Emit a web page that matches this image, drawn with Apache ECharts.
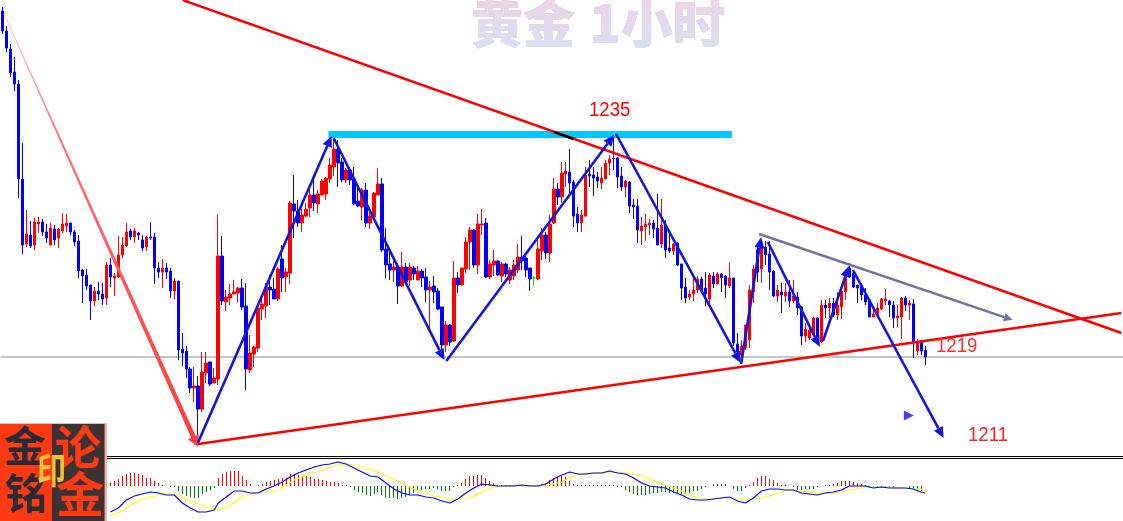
<!DOCTYPE html>
<html><head><meta charset="utf-8">
<style>html,body{margin:0;padding:0;background:#fff;overflow:hidden}#c{width:1123px;height:521px}</style>
<script src="https://cdn.jsdelivr.net/npm/echarts@6/dist/echarts.min.js"></script>
</head><body><div id="c"></div><script>
// open, close, low, high
const candlesA=[[1246.9,1244.9,1244.6,1247.3],[1244.9,1243.2,1242.8,1245.4],[1243.1,1240.7,1240.3,1243.6],[1240.8,1239.6,1238.9,1242.3],[1239.6,1230.1,1228.2,1240.0],[1230.1,1223.5,1222.6,1233.7],[1223.6,1224.6,1223.3,1227.0],[1224.5,1223.4,1223.2,1225.9],[1223.5,1225.8,1223.0,1226.2],[1225.6,1225.8,1224.7,1226.3],[1225.8,1224.8,1224.4,1226.1],[1224.8,1224.2,1223.7,1225.6],[1223.5,1225.2,1223.5,1225.7],[1225.1,1224.0,1223.5,1225.5],[1224.2,1225.1,1223.2,1225.2],[1224.9,1225.6,1224.7,1226.7],[1225.4,1225.7,1224.8,1226.6],[1225.7,1224.8,1224.5,1225.7],[1224.8,1223.8,1223.4,1225.0],[1223.9,1220.9,1220.2,1224.5],[1221.0,1220.4,1217.7,1221.1],[1220.5,1219.4,1219.0,1221.1],[1219.5,1217.9,1216.0,1219.5],[1217.9,1218.9,1217.4,1219.3],[1218.9,1218.6,1218.0,1219.8],[1218.6,1218.1,1217.5,1219.7],[1218.2,1221.5,1217.5,1221.8],[1221.5,1220.3,1219.3,1222.2],[1220.2,1220.4,1218.4,1220.7],[1220.3,1222.5,1220.2,1224.4],[1222.5,1223.5,1222.2,1224.3],[1223.4,1224.8,1223.3,1225.7],[1224.9,1224.3,1224.0,1225.1],[1224.3,1224.9,1223.7,1225.2],[1224.7,1224.5,1224.0,1224.8],[1224.0,1223.2,1222.9,1224.5],[1223.3,1224.3,1222.9,1224.4],[1224.3,1224.2,1224.0,1225.8],[1224.3,1221.2,1219.6,1224.7],[1221.2,1220.8,1220.2,1221.8],[1220.8,1221.2,1219.2,1222.1],[1221.2,1220.8,1220.1,1221.7],[1220.9,1218.9,1218.2,1221.2],[1218.9,1219.9,1218.1,1220.2],[1219.9,1213.0,1212.0,1219.9],[1213.1,1212.7,1211.4,1214.7]];
const candlesB=[[1212.9,1211.1,1210.2,1213.4],[1211.1,1209.2,1208.7,1211.3],[1209.2,1209.4,1207.8,1211.3],[1209.4,1207.1,1204.0,1210.4],[1207.1,1210.8,1206.8,1212.8],[1210.7,1211.7,1209.7,1212.8],[1211.8,1209.6,1209.4,1211.8],[1209.7,1210.2,1209.7,1211.2],[1210.1,1222.4,1209.5,1226.5],[1222.4,1217.9,1217.5,1224.4],[1217.8,1218.3,1216.9,1219.0],[1218.2,1218.6,1217.5,1219.6],[1218.6,1218.8,1218.6,1220.0],[1218.7,1219.2,1217.8,1219.3],[1219.2,1217.3,1217.0,1220.1],[1217.4,1211.1,1209.0,1219.7],[1211.0,1212.7,1210.7,1214.5],[1212.6,1213.3,1211.3,1213.4],[1213.2,1217.2,1212.8,1217.3],[1217.1,1217.6,1216.0,1218.5],[1217.4,1219.3,1216.2,1219.7],[1219.3,1219.0,1217.5,1220.5],[1219.1,1218.1,1218.1,1220.2],[1218.1,1221.1,1217.9,1221.3],[1222.1,1220.2,1218.8,1223.5],[1220.3,1220.8,1218.8,1221.2],[1220.7,1227.7,1219.6,1227.9],[1227.6,1226.9,1224.2,1230.5],[1226.9,1225.7,1225.3,1228.0],[1225.7,1226.5,1224.8,1227.1],[1226.4,1227.1,1226.3,1227.7],[1227.2,1228.5,1226.3,1229.4],[1228.5,1227.7,1226.9,1230.3],[1227.6,1228.6,1226.7,1229.0],[1228.5,1229.9,1228.5,1230.1],[1228.6,1230.2,1228.0,1230.3],[1230.1,1231.5,1229.7,1232.2],[1231.3,1233.1,1230.4,1234.0],[1233.1,1231.7,1229.3,1234.0],[1231.8,1230.0,1229.8,1232.2],[1230.0,1231.0,1229.7,1231.2],[1231.0,1230.0,1229.5,1231.3],[1230.1,1227.6,1227.5,1231.3],[1227.9,1227.4,1227.3,1229.2],[1227.3,1229.0,1226.0,1229.2],[1229.0,1225.7,1225.3,1229.7],[1225.7,1226.4,1225.1,1227.0],[1226.3,1228.7,1226.3,1228.8],[1228.5,1229.6,1228.5,1231.2],[1229.6,1223.0,1222.8,1230.2]];
const candlesC=[[1223.1,1221.5,1220.2,1225.2],[1221.6,1221.0,1220.0,1222.8],[1221.0,1221.3,1219.8,1221.9],[1221.3,1219.4,1217.6,1221.7],[1219.4,1221.3,1219.3,1222.8],[1221.3,1219.8,1219.7,1221.7],[1220.0,1221.3,1219.4,1221.7],[1221.2,1220.6,1220.0,1221.4],[1220.0,1220.9,1220.0,1221.4],[1220.9,1220.2,1219.3,1221.1],[1220.3,1219.0,1217.8,1221.2],[1219.0,1219.3,1215.2,1219.9],[1219.4,1218.8,1217.7,1220.4],[1218.9,1217.1,1217.0,1219.2],[1217.3,1213.5,1212.8,1217.3],[1213.5,1215.5,1212.8,1215.9],[1215.5,1213.8,1213.4,1215.6],[1213.9,1220.2,1213.8,1221.9],[1220.2,1219.5,1218.7,1220.8],[1219.5,1221.2,1219.5,1221.2],[1221.1,1223.8,1220.7,1224.3],[1223.8,1225.0,1221.0,1225.3],[1225.0,1221.5,1221.2,1225.1],[1221.5,1225.6,1220.6,1226.6],[1225.5,1225.6,1224.5,1227.1],[1225.7,1220.3,1220.2,1226.2],[1220.3,1221.6,1220.1,1222.0],[1221.5,1221.9,1220.4,1223.0],[1221.9,1220.5,1220.4,1222.0],[1220.4,1221.6,1219.8,1221.8],[1221.6,1220.6,1220.3,1221.7],[1220.0,1221.0,1219.6,1221.3],[1220.4,1221.5,1220.0,1222.0],[1221.0,1222.3,1220.7,1223.6],[1222.3,1221.9,1221.0,1224.4],[1222.2,1221.0,1220.3,1222.7],[1221.2,1220.1,1218.9,1221.2],[1220.2,1220.2,1219.4,1220.4],[1220.1,1223.1,1220.0,1224.0],[1222.9,1224.5,1222.0,1225.2],[1224.5,1222.7,1222.1,1224.8],[1222.7,1225.6,1221.8,1226.5],[1225.7,1229.1,1225.6,1230.2],[1229.1,1228.3,1227.5,1229.7],[1228.3,1230.7,1227.7,1231.8],[1230.6,1230.9,1229.3,1231.8],[1230.8,1229.7,1228.7,1233.1],[1229.8,1226.4,1225.3,1230.0],[1226.6,1225.7,1224.8,1227.3]];
const candlesD=[[1225.7,1226.5,1224.8,1227.0],[1226.4,1230.5,1226.3,1231.3],[1230.6,1230.4,1229.3,1232.0],[1230.5,1230.2,1228.4,1231.3],[1230.3,1229.9,1229.2,1230.8],[1229.7,1230.2,1229.1,1231.3],[1230.1,1231.7,1230.1,1232.0],[1231.7,1232.1,1230.5,1232.5],[1232.2,1232.1,1231.0,1234.3],[1232.2,1230.3,1229.2,1232.3],[1230.4,1229.3,1228.9,1231.3],[1229.3,1229.9,1228.3,1230.0],[1229.8,1227.4,1226.7,1229.9],[1227.5,1227.3,1226.1,1228.1],[1227.4,1225.0,1223.7,1228.1],[1224.9,1225.4,1223.5,1226.3],[1225.3,1225.6,1223.9,1226.6],[1225.5,1225.7,1224.5,1226.1],[1225.7,1225.1,1224.2,1226.0],[1225.2,1223.5,1223.5,1228.6],[1223.6,1225.5,1223.2,1228.1],[1225.5,1223.0,1222.2,1226.0],[1223.2,1222.9,1222.7,1225.0],[1222.9,1223.6,1222.5,1223.7],[1223.7,1221.5,1221.4,1223.8],[1221.6,1219.2,1218.0,1221.6],[1219.3,1218.2,1217.7,1220.2],[1218.3,1218.6,1218.0,1219.0],[1218.6,1219.0,1217.9,1220.4],[1219.0,1220.1,1218.7,1220.4],[1220.1,1219.0,1218.8,1220.3],[1219.2,1218.6,1217.4,1220.8],[1218.1,1220.5,1217.4,1220.7],[1220.4,1219.6,1219.2,1220.8],[1219.6,1220.6,1219.6,1220.8],[1220.6,1220.2,1218.8,1220.7],[1220.4,1219.5,1218.2,1220.5],[1219.4,1220.2,1219.2,1221.7]];
const candlesE=[[1220.2,1213.7,1213.4,1220.2],[1213.6,1212.8,1212.3,1214.7],[1212.5,1213.4,1211.6,1214.0],[1213.2,1215.5,1213.0,1215.5],[1214.0,1219.0,1213.2,1219.5],[1218.8,1221.1,1217.7,1221.5],[1223.0,1220.8,1219.8,1223.5],[1221.1,1223.7,1219.7,1224.0],[1223.3,1222.5,1221.5,1223.9],[1222.6,1220.8,1219.0,1223.9],[1220.9,1218.4,1218.3,1221.0],[1218.4,1219.0,1217.8,1219.5],[1218.8,1218.5,1216.7,1219.7],[1218.4,1218.8,1217.8,1219.7],[1218.8,1217.9,1217.3,1220.0],[1217.9,1218.4,1217.7,1220.0],[1218.3,1217.2,1216.5,1218.8],[1217.3,1214.4,1213.5,1217.4],[1214.4,1215.1,1213.8,1215.7],[1214.2,1215.0,1214.0,1215.3],[1214.5,1216.2,1214.5,1216.3],[1216.2,1214.0,1213.7,1216.3],[1213.8,1217.5,1213.7,1218.0],[1217.5,1217.2,1216.2,1218.0],[1217.2,1217.7,1216.2,1218.2],[1217.7,1216.5,1216.3,1218.2],[1216.5,1217.5,1216.0,1218.8],[1217.3,1218.9,1216.1,1219.2],[1218.8,1220.3,1218.0,1220.5],[1221.2,1220.3,1220.2,1221.7],[1220.7,1219.3,1219.2,1221.0],[1219.5,1219.2,1217.7,1219.5],[1219.4,1218.5,1218.0,1219.7],[1218.5,1217.8,1217.5,1219.2],[1218.0,1216.3,1216.3,1218.1],[1216.3,1216.6,1216.3,1217.0],[1216.5,1217.2,1216.3,1217.7],[1217.1,1218.1,1217.0,1218.2],[1217.9,1218.1,1217.5,1219.1],[1217.9,1217.5,1216.3,1218.0],[1217.5,1216.2,1215.2,1217.9],[1216.2,1216.4,1215.3,1217.5],[1216.3,1218.2,1214.1,1218.3],[1218.2,1217.5,1216.9,1218.4],[1217.5,1217.7,1216.0,1218.0],[1217.6,1213.8,1212.2,1218.1],[1212.9,1213.8,1212.5,1214.1],[1213.8,1212.9,1212.5,1213.8],[1213.0,1212.3,1211.5,1213.4]];
const dojiIndex=133;
// annotation lines: bar number, price
const waveArrows=[[48.9,1203.7,82.4,1234.4],[82.9,1234.2,110.6,1212.0],[111.1,1211.9,153.1,1234.5],[153.6,1234.6,184.8,1211.7],[184.9,1211.6,189.9,1224.3],[191.6,1223.8,204.6,1213.3],[205.4,1213.9,211.9,1221.4],[212.9,1221.0,235.6,1204.2]];
const channelArrow=[[189.4,1224.6,252.9,1216.0]];
const upperTrend=[[45.1,1248],[280.1,1214.7]];
const lowerTrend=[[48.9,1203.6],[280.1,1216.7]];
const resistanceBand=[[81.6,1234.55],[182.6,1234.55]];
const crossing=[[138.1,1234.8],[142.9,1234.1]];
const currentPrice=[[-0.5,1212.3],[280.5,1212.3]];
const fallWedge=[[0.4,1246.6,48.6,1203.6]];
const marker=[[226.9,1206.45]];
// MACD
const histStart=27;
const histA=[.3,.5,.7,1,1.2,1.3,1.3,1.2,1.1,.8,.8,.5,.3,.1,0,-.1,-.1,-.5,-.8,-1,-1.1,-1.2,-1.2,-.8,-.6,-.4,-.2,.8,1.2,1.4,1.5,1.5,1.5,1,.6,.2,0,.1,.2,.4,.5,.6,.7,.8,.8,1.2,1.2,1.1,1,1,.9,.7,.7,.6,.5];
const histB=[.4,.4,.3,.1,.1,-.1,-.4,-.6,-.7,-.9,-1,-.8,-.6,-.9,-1.1,-1.2,-1.2,-1.3,-1.2,-1.1,-.9,-.7,-.5,-.4,-.3,-.3,-.2,-.3,-.5,-.5,-.5,-.1];
const histC=[.1,.3,.7,1,1,1.1,1.1,.8,.5,.3,.1,.1,.1,.1,.1,.1,.1,.1,.1,.1,.1,.2,.3,.6,.8,.9,1,.9,.5,.2,.1,.1,.1,.1,.1,.1,.1,.1,.1,.1];
const histD=[-.1,-.1,-.4,-.6,-.8,-.9,-.9,-.9,-.8,-.7,-.7,-.6,-.6,-.7,-.7,-.7,-.8,-.8,-.7,-.5,-.5,-.3,-.1,0,.2,.25,.25,.25,0,-.3,-.5,-.5,-.2,.1,.4,.8,1,1,.7,.6,.3,.1,.1,0,-.1,-.4,-.4,-.3,-.3,-.3,-.1,0,.1,.1,.2,.3,.5,.5,.5,.4,.3,.25,.1,-.1,-.1,-.1,-.1,-.1,-.1,-.1,0,0,0,-.2,-.2,-.3,-.5];
const difLine=[[27,-2.6],[29,-2.2],[31,-1.4],[33,-1],[35,-.8],[37,-.6],[39,-.7],[41,-.9],[43,-.9],[45,-1.7],[47,-2.2],[49,-2.6],[51,-2.6],[53,-2.4],[54,-1.7],[56,-1.1],[58,-.5],[60,-.5],[62,-.7],[64,-.7],[66,-.3],[68,0],[70,.4],[72,.9],[74,1.3],[76,1.6],[78,1.9],[80,2.1],[82,2.2],[84,2.4],[86,2.2],[88,1.8],[90,1.4],[92,1],[94,.9],[96,.3],[98,-.3],[100,-.7],[102,-.9],[104,-.9],[106,-1.1],[108,-1.2],[110,-1.5],[112,-1.7],[114,-1.3],[116,-.7],[118,-.2],[120,.2],[122,.1],[124,0],[126,0],[128,0],[130,.1],[132,0],[134,0],[136,.2],[138,.7],[140,1.1],[142,1.4],[144,1.2],[146,1.2],[148,1.3],[150,1.3],[152,1.5],[154,1.3],[156,1.2],[158,.8],[160,.3],[162,0],[164,-.1],[166,-.2],[168,-.6],[170,-.9],[172,-1.3],[174,-1.4],[176,-1.4],[178,-1.3],[180,-1.2],[182,-1.1],[184,-1.5],[186,-1.7],[188,-1.2],[190,-.5],[192,-.3],[194,-.3],[196,-.4],[198,-.4],[200,-.7],[202,-.8],[204,-.9],[206,-.7],[208,-.6],[210,-.4],[212,0],[214,0],[216,0],[218,-.2],[220,-.1],[222,-.2],[224,-.2],[226,-.2],[228,-.3],[230,-.6],[231,-.7]];
const deaLine=[[27,-2.9],[29,-2.7],[31,-2.2],[33,-1.7],[35,-1.3],[37,-1.1],[39,-.9],[41,-.8],[43,-.8],[45,-1.1],[47,-1.5],[49,-1.8],[51,-2.1],[53,-2.3],[55,-2.3],[57,-1.9],[59,-1.4],[61,-1],[63,-.7],[65,-.6],[67,-.5],[69,-.4],[71,.1],[73,.6],[75,.9],[77,1.3],[79,1.4],[81,1.8],[82,1.9],[84,2.1],[86,2.2],[88,2.1],[90,1.9],[92,1.7],[94,1.4],[96,1],[98,.6],[100,.3],[102,-.1],[104,-.5],[106,-.7],[108,-1],[110,-1.1],[112,-1.3],[114,-1.3],[116,-1.3],[118,-1],[120,-.6],[122,-.2],[124,-.1],[126,0],[130,0],[134,0],[136,.1],[138,.2],[140,.4],[142,.8],[144,1.1],[146,1.2],[148,1.3],[152,1.3],[154,1.4],[156,1.3],[158,1.2],[160,1],[162,.7],[164,.4],[166,.1],[168,-.2],[170,-.5],[172,-.9],[174,-1.1],[176,-1.3],[178,-1.3],[180,-1.2],[182,-1.2],[184,-1.3],[186,-1.3],[188,-1.3],[190,-1.2],[192,-1],[194,-.7],[196,-.5],[198,-.4],[200,-.5],[202,-.6],[204,-.7],[206,-.7],[208,-.7],[210,-.6],[212,-.4],[214,-.3],[216,-.1],[218,-.1],[220,-.1],[222,-.1],[224,-.2],[226,-.2],[228,-.3],[230,-.3],[231,-.5]];
const categories=Array.from({length:281},(_,i)=>String(i));
const candles=candlesA.concat(candlesB,candlesC,candlesD,candlesE);
const hist=histA.concat(histB,histC,histD);

const cjk='"Noto Sans CJK SC"';
function arrowRender(color,width,hl,hw){return function(params,api){
  const a=api.coord([api.value(0),api.value(1)]),b=api.coord([api.value(2),api.value(3)]);
  const dx=b[0]-a[0],dy=b[1]-a[1],L=Math.hypot(dx,dy),ux=dx/L,uy=dy/L;
  const bx=b[0]-ux*hl,by=b[1]-uy*hl;
  return {type:'group',children:[
    {type:'line',shape:{x1:a[0],y1:a[1],x2:bx,y2:by},style:{stroke:color,lineWidth:width}},
    {type:'polygon',shape:{points:[b,[bx-uy*hw/2,by+ux*hw/2],[bx+uy*hw/2,by-ux*hw/2]]},style:{fill:color}}
  ]};
};}
function wedgeRender(params,api){
  const a=api.coord([api.value(0),api.value(1)]),b=api.coord([api.value(2),api.value(3)]);
  const dx=b[0]-a[0],dy=b[1]-a[1],L=Math.hypot(dx,dy),ux=dx/L,uy=dy/L;
  const w0=.4,w1=2.4;
  const g=new echarts.graphic.LinearGradient(a[0],a[1],b[0],b[1],[{offset:0,color:'#ffd0d0'},{offset:.3,color:'#ff7070'},{offset:1,color:'#ff3a3a'}],true);
  return {type:'group',children:[
    {type:'polygon',shape:{points:[[a[0]-uy*w0,a[1]+ux*w0],[a[0]+uy*w0,a[1]-ux*w0],[b[0]+uy*w1,b[1]-ux*w1],[b[0]-uy*w1,b[1]+ux*w1]]},style:{fill:g}},
    {type:'polygon',shape:{points:[[b[0]+ux*3,b[1]+uy*3],[b[0]-ux*8-uy*6,b[1]-uy*8+ux*6],[b[0]-ux*8+uy*6,b[1]-uy*8-ux*6]]},style:{fill:'#ff4040'}}
  ]};
}
function histRender(params,api){
  const v=api.value(1);
  if(!v) return null;
  const c=api.coord([api.value(0),v]),o=api.coord([api.value(0),0]);
  const top=Math.round(Math.min(c[1],o[1])),bottom=Math.round(Math.max(c[1],o[1]));
  return {type:'rect',shape:{x:Math.floor(c[0]),y:top,width:1,height:Math.max(1,bottom-top)},style:{fill:v>0?'#ff0000':'#008000'}};
}
function lineSeries(name,data,color,width,z,xIdx,yIdx){
  return {type:'line',name,data,xAxisIndex:xIdx,yAxisIndex:yIdx,showSymbol:false,symbol:'none',animation:false,silent:true,z,lineStyle:{color,width,cap:'butt'}};
}
const axisOff={show:false};
const chart=echarts.init(document.getElementById('c'),null,{renderer:'canvas'});
const titleFill=new echarts.graphic.LinearGradient(0,0,0,1,[{offset:0,color:'#ecd5e6'},{offset:1,color:'#d6e0f2'}]);
chart.setOption({
  animation:false,backgroundColor:'#fff',
  grid:[{left:.5,top:0,width:1124,height:456},{left:.5,top:460,width:1124,height:61}],
  xAxis:[
    {type:'category',data:categories,gridIndex:0,...axisOff},
    {type:'value',min:-.5,max:280.5,gridIndex:0,...axisOff},
    {type:'category',data:categories,gridIndex:1,...axisOff}
  ],
  yAxis:[
    {type:'value',min:1202.4,max:1248,gridIndex:0,...axisOff},
    {type:'value',min:-3.5,max:2.6,gridIndex:1,...axisOff}
  ],
  series:[
    lineSeries('现价',currentPrice,'#8a8a9a',1,1,1,0),
    {type:'candlestick',name:'黄金',xAxisIndex:0,yAxisIndex:0,barWidth:3,z:3,silent:true,animation:false,
     itemStyle:{color:'#ff0000',color0:'#0000ff',borderColor:'#ff0000',borderColor0:'#0000ff',borderWidth:1},
     data:candles.map((c,i)=>i===dojiIndex?{value:c,itemStyle:{color:'#00e000',color0:'#00e000',borderColor:'#00e000',borderColor0:'#00e000',borderColorDoji:'#00e000'}}:c)},
    lineSeries('阻力',resistanceBand,'#00c8ff',7,4,1,0),
    lineSeries('上轨',upperTrend,'#ff0000',2.4,5,1,0),
    lineSeries('下轨',lowerTrend,'#ff0000',2.4,5,1,0),
    lineSeries('交叉',crossing,'#000000',2.4,6,1,0),
    {type:'custom',name:'急跌',xAxisIndex:1,yAxisIndex:0,z:7,silent:true,animation:false,clip:false,data:fallWedge,encode:{x:[0,2],y:[1,3]},renderItem:wedgeRender},
    {type:'custom',name:'通道',xAxisIndex:1,yAxisIndex:0,z:8,silent:true,animation:false,data:channelArrow,encode:{x:[0,2],y:[1,3]},renderItem:arrowRender('#7272a0',2.4,9,8)},
    {type:'custom',name:'波浪',xAxisIndex:1,yAxisIndex:0,z:9,silent:true,animation:false,data:waveArrows,encode:{x:[0,2],y:[1,3]},renderItem:arrowRender('#1414e0',2.6,11,10)},
    {type:'scatter',name:'标记',xAxisIndex:1,yAxisIndex:0,z:9,silent:true,animation:false,data:marker,symbol:'triangle',symbolRotate:-90,symbolSize:10,itemStyle:{color:'#1414e0'}},
    {type:'custom',name:'MACD',xAxisIndex:2,yAxisIndex:1,silent:true,animation:false,z:2,
     data:hist.map((v,i)=>[histStart+i,v]),encode:{x:0,y:1},renderItem:histRender},
    lineSeries('DIF',difLine,'#0000ff',1.1,4,2,1),
    lineSeries('DEA',deaLine,'#ffff00',1.1,3,2,1)
  ],
  graphic:[
    {type:'text',left:471,top:-3,z:20,silent:true,style:{text:'黄金',font:'900 52px '+cjk,fill:'#000'}},
    {type:'text',left:589,top:-3,z:20,silent:true,style:{text:'1小时',font:'900 52px '+cjk,fill:'#000'}},
    {type:'rect',z:21,silent:true,shape:{x:462,y:0,width:270,height:54},style:{fill:titleFill,blend:'lighten'}},
    {type:'text',left:589,top:100.5,scaleX:.93,z:20,silent:true,style:{text:'1235',font:'20px "Liberation Sans"',fill:'#ff0000'}},
    {type:'text',left:936,top:336.5,scaleX:.93,z:20,silent:true,style:{text:'1219',font:'20px "Liberation Sans"',fill:'#ff3030'}},
    {type:'text',left:968,top:425,scaleX:.93,z:20,silent:true,style:{text:'1211',font:'20px "Liberation Sans"',fill:'#ff2020'}},
    {type:'rect',z:18,silent:true,shape:{x:107,y:456,width:1016,height:1},style:{fill:'#000'}},
    {type:'rect',z:18,silent:true,shape:{x:107,y:458,width:1016,height:1},style:{fill:'#000'}},
    {type:'rect',z:18,silent:true,shape:{x:0,y:423,width:107,height:98},style:{fill:'#c8c4c4'}},
    {type:'rect',z:18,silent:true,shape:{x:0,y:424,width:105,height:97},style:{fill:'#ff3a10'}},
    {type:'rect',z:18,silent:true,shape:{x:52,y:424,width:52,height:97},style:{fill:'#3c3236'}},
    {type:'text',z:19,silent:true,left:4,top:425,style:{text:'金',font:'700 42px '+cjk,fill:'#2a2a34'}},
    {type:'text',z:19,silent:true,left:5,top:472,style:{text:'铭',font:'700 42px '+cjk,fill:'#2a2a34'}},
    {type:'text',z:19,silent:true,left:55,top:424,style:{text:'论',font:'700 46px '+cjk,fill:'#ff3a10'}},
    {type:'text',z:19,silent:true,left:56,top:470,style:{text:'金',font:'700 48px '+cjk,fill:'#ff3a10'}},
    {type:'text',z:19,silent:true,left:37,top:452,scaleY:1.25,style:{text:'印',font:'700 29px '+cjk,fill:'#f0c23a'}}
  ]
});
</script></body></html>
